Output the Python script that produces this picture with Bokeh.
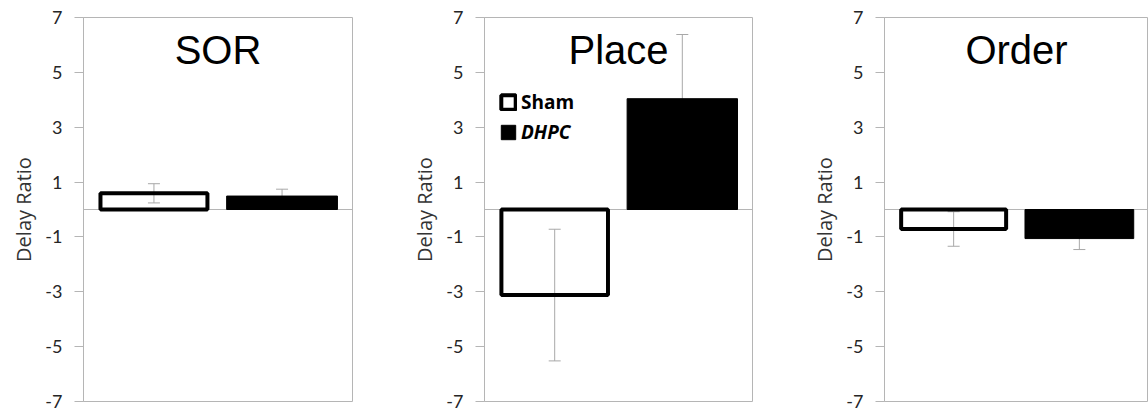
from bokeh.plotting import figure
from bokeh.layouts import row
from bokeh.models import (ColumnDataSource, FactorRange, Range1d, FixedTicker, Whisker,
                          TeeHead, Span, Label, Legend, LegendItem)
from bokeh.core.properties import value
from bokeh.embed import file_html
from bokeh.resources import INLINE

# ---- data ----
tests = ["SOR", "Place", "Order"]
groups = ["Sham", "DHPC"]
sham_mean = [0.59, -3.12, -0.71]
sham_err = [0.35, 2.40, 0.63]
dhpc_mean = [0.49, 4.04, -1.06]
dhpc_err = [0.25, 2.34, 0.40]
y_ticks = [-7, -5, -3, -1, 1, 3, 5, 7]
y_tick_labels = ["-7", "-5", "-3", "-1", "1", "3", "5", "7"]
y_label = "Delay Ratio"

GRAY = "#b5b5b5"
ERR = "#a8a8a8"
TXT = "#262626"

widths = [408, 400, 340]
lefts = [83, 76, 76]
rights = [56, 56, 0]

figs = []
for i, t in enumerate(tests):
    p = figure(width=widths[i], height=412,
               x_range=FactorRange(*groups, range_padding=0.05),
               y_range=Range1d(-7, 7),
               output_backend="svg", toolbar_location=None, x_axis_location=None,
               min_border_left=lefts[i], min_border_right=rights[i],
               min_border_top=17, min_border_bottom=11,
               background_fill_color="white", border_fill_color="white")
    p.grid.visible = False
    p.outline_line_color = GRAY
    p.outline_line_width = 1

    zero = Span(location=0, dimension="width", line_color=GRAY, line_width=1, level="underlay")
    p.add_layout(zero)

    means = [sham_mean[i], dhpc_mean[i]]
    errs = [sham_err[i], dhpc_err[i]]
    src = ColumnDataSource(dict(
        g=groups,
        up=[m + e for m, e in zip(means, errs)],
        lo=[m - e for m, e in zip(means, errs)],
    ))
    wh = Whisker(source=src, base="g", upper="up", lower="lo",
                 line_color=ERR, line_width=1, level="underlay",
                 upper_head=TeeHead(size=12, line_color=ERR, line_width=1),
                 lower_head=TeeHead(size=12, line_color=ERR, line_width=1))
    p.add_layout(wh)

    r_sham = p.vbar(x=[groups[0]], top=[sham_mean[i]], bottom=0, width=0.835,
                    fill_color=None, line_color="black", line_width=4)
    r_dhpc = p.vbar(x=[groups[1]], top=[dhpc_mean[i]], bottom=0, width=0.865,
                    fill_color="black", line_color="black", line_width=1)

    ax = p.yaxis[0]
    ax.ticker = FixedTicker(ticks=y_ticks)
    ax.major_label_overrides = dict(zip(y_ticks, y_tick_labels))
    ax.major_tick_out = 9
    ax.major_tick_in = 0
    ax.minor_tick_out = 0
    ax.minor_tick_in = 0
    ax.axis_line_color = GRAY
    ax.major_tick_line_color = GRAY
    ax.major_label_standoff = 12
    ax.major_label_text_font = "Lato"
    ax.major_label_text_font_size = "18px"
    ax.major_label_text_color = TXT
    ax.axis_label = y_label
    ax.axis_label_text_font = "Open Sans"
    ax.axis_label_text_font_size = "20px"
    ax.axis_label_text_font_style = "normal"
    ax.axis_label_text_color = "#333333"
    ax.axis_label_standoff = 5

    p.add_layout(Label(x=1, y=5.8, text=t, text_align="center", text_baseline="middle",
                       text_font="Liberation Sans", text_font_size="40px", text_color="black"))

    if t == "Place":
        common = dict(padding=0, margin=0, border_line_color=None, background_fill_alpha=0,
                      glyph_width=18, glyph_height=18, label_standoff=4,
                      label_text_font="Open Sans", label_text_font_size="19px",
                      label_text_color="black", label_height=18)
        leg1 = Legend(items=[LegendItem(label=value(groups[0]), renderers=[r_sham])],
                      location=(15, 286), label_text_font_style="bold", **common)
        leg2 = Legend(items=[LegendItem(label=value(groups[1]), renderers=[r_dhpc])],
                      location=(15, 256), label_text_font_style="bold italic", **common)
        p.add_layout(leg1)
        p.add_layout(leg2)

    figs.append(p)

layout = row(*figs)
open("out.html", "w").write(file_html(layout, INLINE))
